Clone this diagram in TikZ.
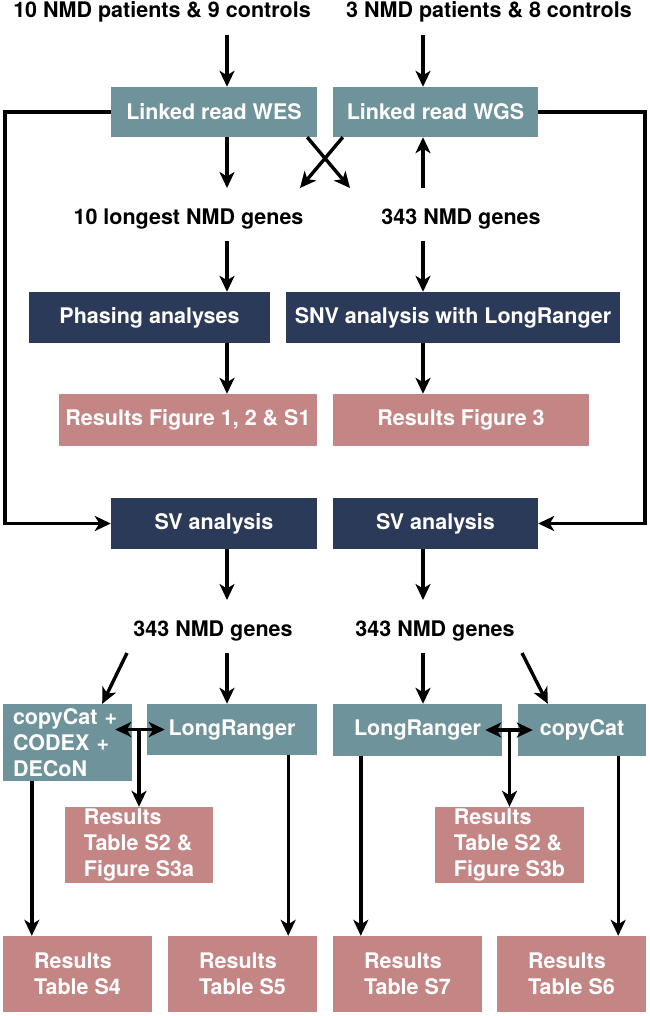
\documentclass[tikz,border=0pt]{standalone}
\usepackage{fontspec}
\setmainfont{TeX Gyre Heros}
\usetikzlibrary{positioning, calc, arrows.meta}

\definecolor{seqcol}{HTML}{6F939B}
\definecolor{anacol}{HTML}{2C3A59}
\definecolor{rescol}{HTML}{C48585}

\begin{document}
\begin{tikzpicture}[x=1pt, y=-1pt,
	font=\fontsize{21.5}{26}\selectfont\bfseries,
	arr/.style={draw, line width=3.4pt, -{Stealth[length=16pt,width=15pt,inset=4.5pt]}},
	dbl/.style={draw, line width=3.4pt, {Stealth[length=16pt,width=15pt,inset=4.5pt]}-{Stealth[length=16pt,width=15pt,inset=4.5pt]}},
	box/.style={text=white, inner sep=0pt, align=center},
	size/.style 2 args={minimum width=#1pt, minimum height=#2pt},
	seq/.style={box, fill=seqcol},
	ana/.style={box, fill=anacol},
	res/.style={box, fill=rescol},
	genes/.style={inner sep=0pt, anchor=base}]
	\useasboundingbox (0,0) rectangle (649,1016);
	\coordinate (cl) at (227,0);
	\coordinate (cr) at (423,0);
	\coordinate (lx) at (5,0);
	\coordinate (rx) at (645,0);
	\node[genes] (tl) at (162,17.5) {10 NMD patients \& 9 controls};
	\node[genes] (tr) at (489,17.5) {3 NMD patients \& 8 controls};
	\node[seq, size={206}{50}] (wes) at (214,112) {Linked read WES};
	\node[seq, size={205}{50}] (wgs) at (435.5,112) {Linked read WGS};
	\node[genes] (g10) at (188.5,225) {10 longest NMD genes};
	\node[genes] (g343) at (461,225) {343 NMD genes};
	\node[ana, size={241}{51}] (phase) at (149.5,317.5) {Phasing analyses};
	\node[ana, size={334}{51}] (snv) at (453,317.5) {SNV analysis with LongRanger};
	\node[res, size={258}{52}] (fig12) at (188,420) {Results Figure 1, 2 \& S1};
	\node[res, size={256}{52}] (fig3) at (461,420) {Results Figure 3};
	\node[ana, size={206}{51}] (svl) at (214,523.5) {SV analysis};
	\node[ana, size={205}{51}] (svr) at (435.5,523.5) {SV analysis};
	\node[genes] (genesl) at (213,636) {343 NMD genes};
	\node[genes] (genesr) at (435,636) {343 NMD genes};
	\node[seq, minimum height=77pt, text width=109pt, inner xsep=10pt, align=left] (cnvl) at (67.5,742.5) {copyCat +\\CODEX +\\DECoN};
	\node[seq, size={170}{51}] (lrl) at (232,729.5) {LongRanger};
	\node[seq, size={169}{52}] (lrr) at (417.5,730) {LongRanger};
	\node[seq, size={128}{52}] (cnvr) at (582,730) {copyCat};
	\node[res, size={148}{76}, align=left] (s3a) at (139,845) {Results\\Table S2 \&\\Figure S3a};
	\node[res, size={149}{76}, align=left] (s3b) at (509.5,845) {Results\\Table S2 \&\\Figure S3b};
	\node[res, size={149}{76}, align=left] (s4) at (77.5,974) {Results\\Table S4};
	\node[res, size={149}{76}, align=left] (s5) at (242.5,974) {Results\\Table S5};
	\node[res, size={149}{76}, align=left] (s7) at (407.5,974) {Results\\Table S7};
	\node[res, size={149}{76}, align=left] (s6) at (571.5,974) {Results\\Table S6};

	\draw[arr] ($(tl.base -| cl)+(0,18)$) -- (wes.north -| cl);
	\draw[arr] ($(tr.base -| cr)+(0,18)$) -- (wgs.north -| cr);
	\draw[arr] (wes.west) -- (wes.west -| lx) |- (svl.west);
	\draw[arr] (wgs.east) -- (wgs.east -| rx) |- (svr.east);
	\draw[arr] (wes.south -| cl) -- ($(g10.base -| cl)+(0,-37)$);
	\draw[arr] ($(wes.south east)+(-10,0)$) -- ($(g343.base)+(-111,-37)$);
	\draw[arr] ($(wgs.south west)+(10,0)$) -- ($(g10.base)+(111.5,-37)$);
	\draw[arr] ($(g343.base -| cr)+(0,-37)$) -- (wgs.south -| cr);
	\draw[arr] ($(g10.base -| cl)+(0,16)$) -- (phase.north -| cl);
	\draw[arr] ($(g343.base -| cr)+(0,16)$) -- (snv.north -| cr);
	\draw[arr] (phase.south -| cl) -- (fig12.north -| cl);
	\draw[arr] (snv.south -| cr) -- (fig3.north -| cr);
	\draw[arr] (svl.south -| cl) -- ($(genesl.base -| cl)+(0,-36)$);
	\draw[arr] (svr.south -| cr) -- ($(genesr.base -| cr)+(0,-36)$);
	\draw[arr] ($(genesl.base)+(-86,17)$) -- ($(cnvl.north east)+(-30,0)$);
	\draw[arr] ($(genesl.base -| cl)+(0,17)$) -- (lrl.north -| cl);
	\draw[arr] ($(genesr.base -| cr)+(0,17)$) -- (lrr.north -| cr);
	\draw[arr] ($(genesr.base)+(87,17)$) -- ($(cnvr.north west)+(30,0)$);
	\draw[dbl] ($(lrl.west)+(18,0)$) -- ($(lrl.west -| cnvl.east)+(-17,0)$);
	\draw[arr] (lrl.west -| s3a) -- (s3a.north);
	\draw[dbl] ($(lrr.east)+(-17,0)$) -- ($(lrr.east -| cnvr.west)+(15,0)$);
	\draw[arr] (lrr.east -| s3b) -- (s3b.north);
	\draw[arr] ($(cnvl.south west)+(29,0)$) -- ($(s4.north west)+(29,0)$);
	\draw[arr] ($(lrl.south east)+(-29,0)$) -- ($(s5.north east)+(-29,0)$);
	\draw[arr] ($(lrr.south west)+(28,0)$) -- ($(s7.north west)+(28,0)$);
	\draw[arr] ($(cnvr.south east)+(-28,0)$) -- ($(s6.north east)+(-28,0)$);
\end{tikzpicture}
\end{document}
